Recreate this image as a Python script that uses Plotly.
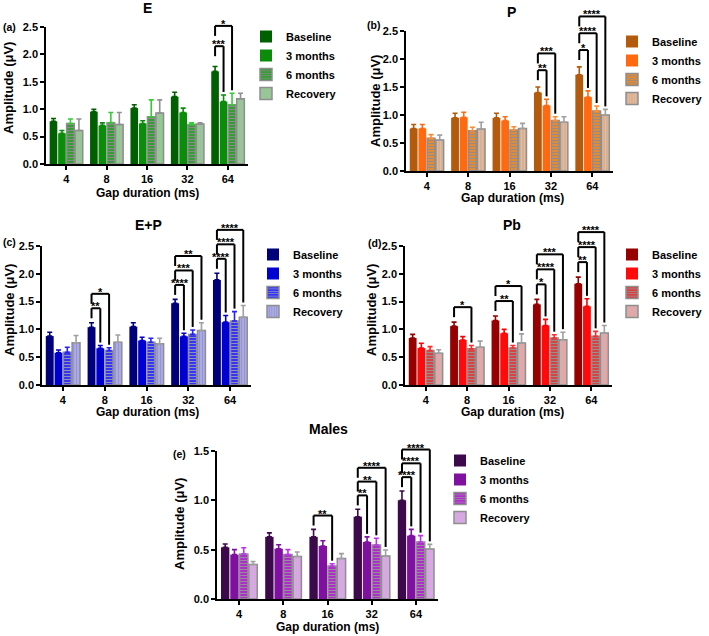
import plotly.graph_objects as go

W, H = 709, 636
FONT = "Liberation Sans, Arial, Helvetica, sans-serif"

# ---------------- data ----------------
gaps = ["4", "8", "16", "32", "64"]
series = ["Baseline", "3 months", "6 months", "Recovery"]

# Panel (a) E
E_mean = [
    [0.78, 0.955, 1.02, 1.23, 1.69],
    [0.56, 0.705, 0.74, 0.94, 1.14],
    [0.74, 0.755, 0.86, 0.72, 1.08],
    [0.61, 0.72, 0.93, 0.73, 1.19],
]
E_sem = [
    [0.05, 0.045, 0.06, 0.08, 0.09],
    [0.05, 0.045, 0.05, 0.08, 0.12],
    [0.08, 0.185, 0.31, 0.03, 0.21],
    [0.21, 0.22, 0.24, 0.02, 0.10],
]
E_sig = [("64", "3 months", "***"), ("64", "6 months", "*")]

# Panel (b) P
P_mean = [
    [0.76, 0.95, 0.95, 1.40, 1.72],
    [0.76, 0.96, 0.90, 1.17, 1.32],
    [0.585, 0.72, 0.73, 0.90, 1.07],
    [0.555, 0.75, 0.76, 0.87, 1.00],
]
P_sem = [
    [0.07, 0.08, 0.08, 0.10, 0.14],
    [0.07, 0.09, 0.07, 0.11, 0.11],
    [0.065, 0.06, 0.06, 0.07, 0.09],
    [0.085, 0.12, 0.09, 0.10, 0.10],
]
P_sig = [("32", "3 months", "**"), ("32", "6 months", "***"),
         ("64", "3 months", "*"), ("64", "6 months", "****"), ("64", "Recovery", "****")]

# Panel (c) E+P
EP_mean = [
    [0.88, 1.04, 1.05, 1.47, 1.89],
    [0.58, 0.66, 0.80, 0.875, 1.13],
    [0.59, 0.62, 0.77, 0.91, 1.15],
    [0.76, 0.77, 0.74, 0.98, 1.22],
]
EP_sem = [
    [0.07, 0.08, 0.07, 0.07, 0.12],
    [0.05, 0.05, 0.06, 0.055, 0.12],
    [0.09, 0.05, 0.07, 0.08, 0.17],
    [0.13, 0.13, 0.10, 0.14, 0.21],
]
EP_sig = [("8", "3 months", "**"), ("8", "6 months", "*"),
          ("32", "3 months", "****"), ("32", "6 months", "***"), ("32", "Recovery", "**"),
          ("64", "3 months", "****"), ("64", "6 months", "****"), ("64", "Recovery", "****")]

# Panel (d) Pb
Pb_mean = [
    [0.845, 1.06, 1.16, 1.45, 1.82],
    [0.665, 0.81, 0.93, 1.07, 1.415],
    [0.62, 0.65, 0.665, 0.845, 0.875],
    [0.57, 0.68, 0.755, 0.815, 0.935],
]
Pb_sem = [
    [0.065, 0.07, 0.08, 0.09, 0.12],
    [0.085, 0.06, 0.07, 0.11, 0.135],
    [0.07, 0.06, 0.045, 0.06, 0.09],
    [0.065, 0.11, 0.165, 0.135, 0.135],
]
Pb_sig = [("8", "6 months", "*"),
          ("16", "6 months", "**"), ("16", "Recovery", "*"),
          ("32", "3 months", "*"), ("32", "6 months", "****"), ("32", "Recovery", "***"),
          ("64", "3 months", "**"), ("64", "6 months", "****"), ("64", "Recovery", "****")]

# Panel (e) Males
M_mean = [
    [0.524, 0.63, 0.63, 0.834, 1.00],
    [0.45, 0.51, 0.537, 0.578, 0.642],
    [0.456, 0.45, 0.334, 0.547, 0.578],
    [0.35, 0.43, 0.41, 0.436, 0.507],
]
M_sem = [
    [0.033, 0.04, 0.076, 0.076, 0.095],
    [0.05, 0.04, 0.053, 0.052, 0.064],
    [0.064, 0.05, 0.024, 0.068, 0.064],
    [0.03, 0.046, 0.05, 0.061, 0.047],
]
M_sig = [("16", "6 months", "**"),
         ("32", "3 months", "**"), ("32", "6 months", "**"), ("32", "Recovery", "****"),
         ("64", "3 months", "****"), ("64", "6 months", "****"), ("64", "Recovery", "****")]

# ---------------- styles / layout ----------------
BARGAP = 0.16
GROUPGAP = 0.1
GRAY = "#8e8e8e"

panels = [
    dict(title="E", label="(a)", mean=E_mean, sem=E_sem, sig=E_sig, ymax=2.5, step=0.37,
         box=(46, 248, 27, 164), title_xy=(147, 8), label_xy=(1, 27), xt_xy=(147, 193),
         yt_xy=(9, 88), leg_xy=(246, 22),
         fill=["#005f00", "#0b8c0b", "#2a9f2a", "#b4b4b4"],
         fg=[None, None, "#8a8a8a", "#6fe06f"],
         err=["#005f00", "#0b8c0b", "#33cc33", "#909090"]),
    dict(title="P", label="(b)", mean=P_mean, sem=P_sem, sig=P_sig, ymax=2.5, step=0.30,
         box=(406, 613, 31, 171), title_xy=(511, 12), label_xy=(365, 25), xt_xy=(512, 198),
         yt_xy=(375, 101), leg_xy=(612, 27),
         fill=["#b35a0c", "#ff6a10", "#e98a30", "#c8b4a4"],
         fg=[None, None, "#9a8a80", "#f8b585"],
         err=["#b35a0c", "#ff6a10", "#ff8a30", "#a0a0a0"]),
    dict(title="E+P", label="(c)", mean=EP_mean, sem=EP_sem, sig=EP_sig, ymax=2.5, step=0.26,
         box=(42, 251, 246, 385), title_xy=(148, 225), label_xy=(1, 242), xt_xy=(147, 412),
         yt_xy=(9, 310), leg_xy=(253, 240),
         fill=["#00007a", "#0000d0", "#2a2aff", "#b0b0d0"],
         fg=[None, None, "#9090b8", "#8f8fff"],
         err=["#00007a", "#0000d0", "#2222ff", "#a0a0a0"]),
    dict(title="Pb", label="(d)", mean=Pb_mean, sem=Pb_sem, sig=Pb_sig, ymax=2.5, step=0.27,
         box=(405, 612, 246, 385), title_xy=(512, 225), label_xy=(366, 243), xt_xy=(512, 412),
         yt_xy=(371, 310), leg_xy=(612, 240),
         fill=["#960000", "#ff0a0a", "#e03a3a", "#d0b0b0"],
         fg=[None, None, "#a08a8a", "#f4a0a0"],
         err=["#960000", "#ff0000", "#ff2a2a", "#a0a0a0"]),
    dict(title="Males", label="(e)", mean=M_mean, sem=M_sem, sig=M_sig, ymax=1.5, step=0.14,
         box=(217, 438, 451, 599), title_xy=(328, 429), label_xy=(171, 454), xt_xy=(327, 627),
         yt_xy=(179, 524), leg_xy=(440, 446),
         fill=["#3c0a4a", "#8010a0", "#b022d0", "#d0b0d8"],
         fg=[None, None, "#9a8aa0", "#e0a0f0"],
         err=["#3c0a4a", "#8010a0", "#c030f0", "#a0a0a0"]),
]


def px_x(px):
    return px / W


def px_y(py):
    return 1 - py / H


def xdom(gi, j):
    slot = (1 - BARGAP) / 4
    c = gi - (1 - BARGAP) / 2 + (j + 0.5) * slot
    return (c + 0.5) / len(gaps)


fig = go.Figure()
layout = dict(
    width=W, height=H, autosize=False,
    margin=dict(l=0, r=0, t=0, b=0, autoexpand=False),
    paper_bgcolor="white", plot_bgcolor="white",
    barmode="group", bargap=BARGAP, bargroupgap=GROUPGAP,
    showlegend=True,
    font=dict(family=FONT, color="black"),
)
shapes = []
annotations = []
bold = dict(family=FONT, color="black", weight="bold")

for pi, p in enumerate(panels):
    sfx = "" if pi == 0 else str(pi + 1)
    xa, ya = "x" + sfx, "y" + sfx
    leg = "legend" + sfx
    x0, x1, y0, y1 = p["box"]
    plot_h = y1 - y0
    for j, s in enumerate(series):
        marker = dict(color=p["fill"][j])
        if j >= 2:
            marker["line"] = dict(color=GRAY, width=1.5)
            marker["pattern"] = dict(shape="-" if j == 2 else "|", fgcolor=p["fg"][j],
                                     bgcolor=p["fill"][j], size=3, solidity=0.4,
                                     fillmode="replace")
        else:
            marker["line"] = dict(width=0)
        fig.add_trace(go.Bar(
            x=gaps, y=p["mean"][j], name=s, xaxis=xa, yaxis=ya, legend=leg,
            marker=marker,
            error_y=dict(type="data", array=p["sem"][j], arrayminus=[0] * len(gaps),
                         symmetric=False, color=p["err"][j], thickness=1.6, width=2.5),
        ))
    axkey = "xaxis" + sfx
    aykey = "yaxis" + sfx
    layout[axkey] = dict(
        domain=[px_x(x0), px_x(x1)], anchor=ya, type="category",
        categoryorder="array", categoryarray=gaps, range=[-0.5, len(gaps) - 0.5],
        showline=True, linecolor="black", linewidth=1.5, ticks="outside", ticklen=4,
        tickwidth=1.5, tickcolor="black", showgrid=False, zeroline=False,
        tickfont=dict(size=11, **bold),
    )
    layout[aykey] = dict(
        domain=[px_y(y1), px_y(y0)], anchor=xa, range=[0, p["ymax"]], dtick=0.5,
        tickformat=".1f", showline=True, linecolor="black", linewidth=1.5,
        ticks="outside", ticklen=4, tickwidth=1.5, tickcolor="black",
        showgrid=False, zeroline=False, tickfont=dict(size=11, **bold),
    )
    lx, ly = p["leg_xy"]
    layout[leg] = dict(
        x=px_x(lx), y=px_y(ly), xanchor="left", yanchor="top",
        bgcolor="rgba(0,0,0,0)", font=dict(size=11, **bold),
        tracegroupgap=0, itemwidth=30, traceorder="normal",
    )
    # texts
    tx, ty = p["title_xy"]
    annotations.append(dict(text=p["title"], x=px_x(tx), y=px_y(ty), xref="paper", yref="paper",
                            xanchor="center", yanchor="middle", showarrow=False,
                            font=dict(size=14, **bold)))
    lbx, lby = p["label_xy"]
    annotations.append(dict(text=p["label"], x=px_x(lbx), y=px_y(lby), xref="paper", yref="paper",
                            xanchor="left", yanchor="middle", showarrow=False,
                            font=dict(size=10.5, **bold)))
    xtx, xty = p["xt_xy"]
    annotations.append(dict(text="Gap duration (ms)", x=px_x(xtx), y=px_y(xty), xref="paper",
                            yref="paper", xanchor="center", yanchor="middle", showarrow=False,
                            font=dict(size=12, **bold)))
    ytx, yty = p["yt_xy"]
    annotations.append(dict(text="Amplitude (μV)", x=px_x(ytx), y=px_y(yty), xref="paper",
                            yref="paper", xanchor="center", yanchor="middle", showarrow=False,
                            textangle=-90, font=dict(size=13, **bold)))
    # significance brackets
    counts = {}
    ymax = p["ymax"]
    for g, tgt, stars in p["sig"]:
        gi = gaps.index(g)
        tj = series.index(tgt)
        k = counts.get(g, 0)
        counts[g] = k + 1
        base_top = p["mean"][0][gi] + p["sem"][0][gi]
        level = (base_top + p["step"] * (k + 1)) / ymax
        tgt_top = (p["mean"][tj][gi] + p["sem"][tj][gi]) / ymax + 3 / plot_h
        xl, xr = xdom(gi, 0), xdom(gi, tj)
        leg_len = 10 / plot_h
        ref = dict(xref=xa + " domain", yref=ya + " domain", type="line",
                   line=dict(color="black", width=2))
        shapes.append(dict(x0=xl, x1=xl, y0=level - leg_len, y1=level, **ref))
        shapes.append(dict(x0=xl, x1=xr, y0=level, y1=level, **ref))
        shapes.append(dict(x0=xr, x1=xr, y0=level, y1=tgt_top, **ref))
        annotations.append(dict(text=stars, x=(xl + xr) / 2, y=level, xref=xa + " domain",
                                yref=ya + " domain", xanchor="center", yanchor="bottom",
                                yshift=-6, showarrow=False, font=dict(size=11, **bold)))

layout["shapes"] = shapes
layout["annotations"] = annotations
fig.update_layout(**layout)
fig.write_html(
    "out.html",
    config={"displayModeBar": False},
    post_script="document.body.style.margin='0';document.body.style.padding='0';"
                "document.body.style.overflow='hidden';",
)
